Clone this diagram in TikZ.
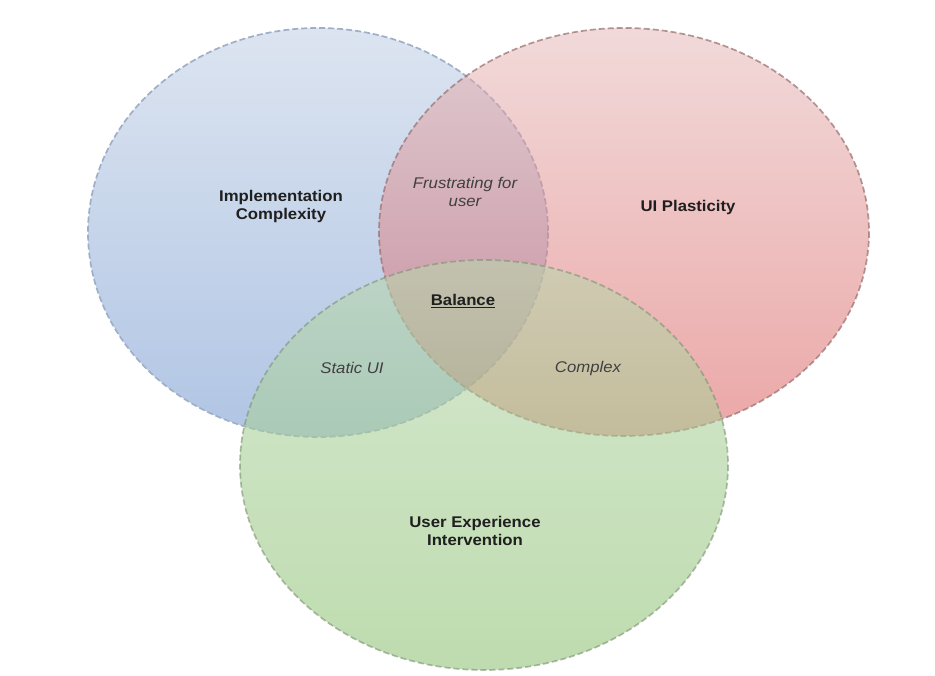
\documentclass[tikz,border=0pt]{standalone}
\usepackage{fontspec}
\setmainfont{Liberation Sans}[FakeStretch=1.08]
\begin{document}
\begin{tikzpicture}[x=1pt,y=-1pt,
  lbl/.style={align=center,font=\fontsize{15.5}{18}\selectfont\bfseries,text=black!88},
  ilbl/.style={align=center,font=\fontsize{15.5}{18}\selectfont\itshape,text=black!75},
  rim/.style={dash pattern=on 6pt off 3pt,line width=1.7pt}]
\definecolor{bluetop}{RGB}{220,228,240}
\definecolor{bluebot}{RGB}{176,197,228}
\definecolor{blueline}{RGB}{160,175,200}
\definecolor{redtop}{RGB}{229,181,181}
\definecolor{redbot}{RGB}{217,80,80}
\definecolor{redline}{RGB}{150,110,110}
\definecolor{greentop}{RGB}{185,215,173}
\definecolor{greenbot}{RGB}{141,194,115}
\definecolor{greenline}{RGB}{125,145,115}
\useasboundingbox (0,0) rectangle (935,676);
\fill[white] (0,0) rectangle (935,676);
% blue
\shade[top color=bluetop,bottom color=bluebot] (318,232.5) ellipse [x radius=230,y radius=204.5];
\draw[rim,blueline] (318,232.5) ellipse [x radius=230,y radius=204.5];
% red
\shade[top color=redtop,bottom color=redbot,fill opacity=0.5] (624,232) ellipse [x radius=245,y radius=204];
\draw[rim,redline,draw opacity=0.7] (624,232) ellipse [x radius=245,y radius=204];
% green
\shade[top color=greentop,bottom color=greenbot,fill opacity=0.57] (484,465) ellipse [x radius=244,y radius=205];
\draw[rim,greenline,draw opacity=0.6] (484,465) ellipse [x radius=244,y radius=205];
% labels
\node[lbl] (impl) at (281,206) {Implementation\\Complexity};
\node[lbl] (uip) at (688,207) {UI Plasticity};
\node[lbl] (uxi) at (475,531) {User Experience\\Intervention};
\node[lbl] (bal) at (463,301) {\underline{Balance}};
\node[ilbl] (frus) at (465,192) {Frustrating for\\user};
\node[ilbl] (stat) at (352,368) {Static UI};
\node[ilbl] (cplx) at (588,368) {Complex};
\end{tikzpicture}
\end{document}
